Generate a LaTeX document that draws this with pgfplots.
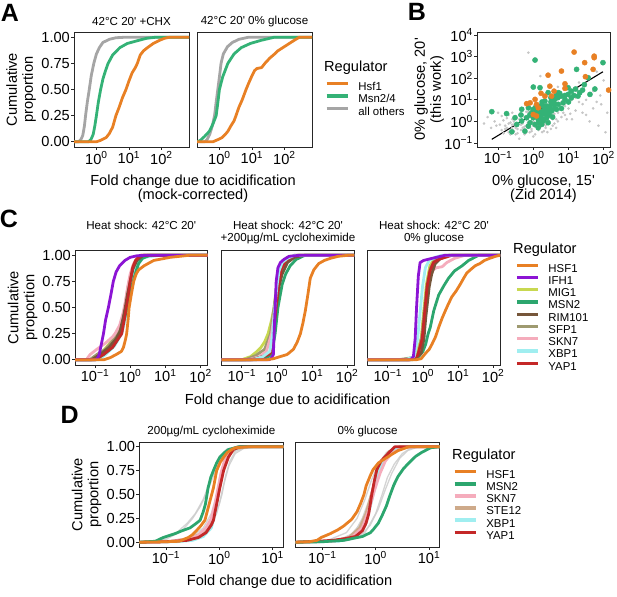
\documentclass[border=0pt]{standalone}
\usepackage{fontspec}
\setmainfont{Liberation Sans}
\usepackage{pgfplots}
\pgfplotsset{compat=1.18}

\definecolor{cOr}{RGB}{232,128,36}
\definecolor{cGr}{RGB}{52,178,118}
\definecolor{cGy}{RGB}{165,165,165}
\definecolor{cPu}{RGB}{140,20,212}
\definecolor{cMi}{RGB}{200,216,80}
\definecolor{cMs}{RGB}{44,166,110}
\definecolor{cRi}{RGB}{118,86,58}
\definecolor{cSf}{RGB}{158,154,112}
\definecolor{cSk}{RGB}{245,172,188}
\definecolor{cXb}{RGB}{160,238,240}
\definecolor{cYa}{RGB}{196,40,40}
\definecolor{cSt}{RGB}{206,170,138}
\definecolor{cPt}{RGB}{198,198,198}

\newcommand{\ftick}{\fontsize{14.6}{16}\selectfont}
\newcommand{\ftitle}{\fontsize{11.6}{13.5}\selectfont}
\newcommand{\fleg}{\fontsize{11.4}{12}\selectfont}
\newcommand{\fpan}{\fontsize{25}{25}\selectfont\bfseries}
\newcommand{\pe}[1]{10\textsuperscript{#1}}

\pgfplotsset{
 panel/.style={scale only axis, axis line style={black!85, line width=0.7pt},
   tick style={black!85, line width=0.7pt}, tick align=outside, major tick length=3pt,
   tick pos=left, tick label style={font=\ftick}, yticklabel style={inner sep=1pt},
   xticklabel style={inner sep=1.5pt}},
 ecdf/.style={ymin=-0.05, ymax=1.05, ytick={0,0.25,0.5,0.75,1}, yticklabels={0.00,0.25,0.50,0.75,1.00}},
 noy/.style={ymin=-0.05, ymax=1.05, ytick=\empty},
 cur/.style={line width=2.8pt, line join=round, forget plot},
 thn/.style={line width=1.3pt, line join=round, forget plot, color=gray!40, opacity=0.85},
 leg/.style={legend style={draw=none, fill=none, inner sep=0pt, outer sep=0pt, anchor=north west,
   row sep=#1, font=\fleg, nodes={inner sep=0.5pt, text height=8.4pt, text depth=2.6pt},
   /tikz/every odd column/.append style={column sep=8.5pt}}, legend cell align=left,
   legend image code/.code={\draw[##1, line width=3.4pt] (0pt,4pt) -- (21pt,4pt);}},
}

\begin{document}
\begin{tikzpicture}
\path[use as bounding box] (0pt,0pt) rectangle (617pt,596pt);

% ================= Panel A =================
\node[font=\fpan] at (10pt,583pt) {A};
\node[font=\ftitle] at (131.5pt,574.3pt) {42°C 20\textquotesingle{} +CHX};
\node[font=\ftitle] at (254.5pt,574.3pt) {42°C 20\textquotesingle{} 0\% glucose};
\node[font=\ftick, rotate=90, align=center] at (21pt,506.5pt) {Cumulative\\proportion};
\node[font=\ftick] at (193pt,414.3pt) {Fold change due to acidification};
\node[font=\ftick] at (193pt,400.5pt) {(mock-corrected)};
\node[font=\ftick, anchor=west, inner sep=0pt] at (324pt,528pt) {Regulator};

\begin{axis}[panel, ecdf, at={(74pt,449pt)}, anchor=south west, width=115pt, height=115pt,
  xmin=-0.69, xmax=2.85, xtick={0,1,2}, xticklabels={\pe{0},\pe{1},\pe{2}}]
\addplot[cur, cGy] coordinates {(-0.69,0) (-0.55,0) (-0.48,0.02) (-0.42,0.06) (-0.37,0.15) (-0.33,0.26) (-0.28,0.38) (-0.22,0.5) (-0.16,0.63) (-0.08,0.75) (0.0,0.84) (0.09,0.9) (0.2,0.95) (0.4,0.98) (0.6,0.995) (0.9,1) (2.85,1)};
\addplot[cur, cGr] coordinates {(-0.69,0) (-0.25,0) (-0.17,0.02) (-0.1,0.07) (-0.05,0.15) (0.0,0.25) (0.06,0.38) (0.13,0.5) (0.2,0.6) (0.28,0.68) (0.36,0.75) (0.5,0.83) (0.72,0.9) (0.95,0.94) (1.3,0.97) (1.55,0.99) (1.83,1) (2.85,1)};
\addplot[cur, cOr] coordinates {(-0.69,0) (0.0,0) (0.1,0.01) (0.3,0.04) (0.4,0.08) (0.5,0.14) (0.6,0.25) (0.7,0.33) (0.8,0.42) (0.91,0.5) (1.0,0.58) (1.1,0.66) (1.2,0.71) (1.26,0.75) (1.35,0.83) (1.45,0.87) (1.57,0.9) (1.75,0.94) (1.94,0.97) (2.1,0.99) (2.25,1) (2.85,1)};
\end{axis}

\begin{axis}[panel, noy, leg=0.5pt, at={(197pt,449pt)}, anchor=south west, width=115pt, height=115pt,
  xmin=-0.69, xmax=2.85, xtick={0,1,2}, xticklabels={\pe{0},\pe{1},\pe{2}},
  legend style={at={(1.113,0.570)}}]
\addplot[cur, cGy] coordinates {(-0.69,0) (-0.45,0) (-0.38,0.02) (-0.3,0.07) (-0.22,0.15) (-0.15,0.25) (-0.1,0.38) (-0.05,0.5) (0.0,0.62) (0.05,0.75) (0.12,0.84) (0.25,0.91) (0.4,0.95) (0.6,0.98) (0.9,1) (2.85,1)};
\addplot[cur, cGr] coordinates {(-0.69,0.0) (-0.6,0.01) (-0.46,0.05) (-0.31,0.1) (-0.2,0.17) (-0.1,0.25) (-0.05,0.37) (0.0,0.5) (0.1,0.62) (0.26,0.75) (0.45,0.84) (0.67,0.9) (0.95,0.94) (1.28,0.97) (1.69,1) (2.85,1)};
\addplot[cur, cOr] coordinates {(-0.69,0) (-0.2,0) (-0.05,0.02) (0.08,0.04) (0.18,0.07) (0.26,0.1) (0.35,0.15) (0.45,0.2) (0.51,0.25) (0.6,0.33) (0.7,0.4) (0.82,0.5) (0.9,0.56) (1.0,0.63) (1.08,0.68) (1.15,0.7) (1.3,0.71) (1.4,0.75) (1.55,0.8) (1.7,0.84) (1.8,0.87) (1.95,0.9) (2.15,0.94) (2.3,0.97) (2.46,1) (2.85,1)};
\addlegendimage{cOr}\addlegendentry{Hsf1}
\addlegendimage{cGr}\addlegendentry{Msn2/4}
\addlegendimage{cGy}\addlegendentry{all others}
\end{axis}

% ================= Panel B =================
\node[font=\fpan] at (417pt,584pt) {B};
\node[font=\ftick, rotate=90, align=center] at (429pt,506.5pt) {0\% glucose, 20\textquotesingle\\(this work)};
\node[font=\ftick] at (543.5pt,414.3pt) {0\% glucose, 15\textquotesingle};
\node[font=\ftick] at (543.5pt,400.5pt) {(Zid 2014)};

\begin{axis}[panel, at={(477pt,449pt)}, anchor=south west, width=133pt, height=115pt,
  xmin=-1.6, xmax=2.18, ymin=-1.185, ymax=4.14,
  xtick={-1,0,1,2}, xticklabels={\pe{−1},\pe{0},\pe{1},\pe{2}},
  ytick={-1,0,1,2,3,4}, yticklabels={\pe{−1},\pe{0},\pe{1},\pe{2},\pe{3},\pe{4}}]
\addplot[only marks, mark=*, mark size=1.1pt, color=cPt] coordinates {
(-0.9,-0.4) (-0.8,-0.2) (-0.7,-0.5) (-0.6,-0.3) (-0.55,0.0) (-0.5,-0.6) (-0.45,-0.2) (-0.4,0.1) (-0.35,-0.4) (-0.3,-0.1)
(-0.25,0.2) (-0.2,-0.5) (-0.15,-0.3) (-0.1,0.0) (-0.05,0.3) (0.0,-0.2) (0.05,-0.6) (0.1,0.1) (0.15,-0.4) (0.2,0.4)
(0.25,-0.1) (0.3,0.2) (0.35,-0.3) (0.4,0.5) (0.45,0.0) (0.5,0.3) (0.55,-0.2) (0.6,0.7) (0.65,0.1) (0.7,0.4)
(0.8,0.9) (0.9,0.3) (1.0,0.6) (1.1,1.0) (1.2,0.5) (1.4,0.8) (1.6,1.2) (1.8,0.9) (2.0,1.9) (1.85,-0.2)
(1.7,0.6) (-1.1,0.0) (-1.2,-0.3) (-1.0,0.4) (-0.3,0.6) (-0.6,0.4) (0.1,0.8) (0.3,1.1) (0.0,1.6) (-0.14,3.18)
(0.2,2.1) (0.7,1.6) (1.3,1.8) (-0.4,-0.8) (0.0,-0.7) (0.4,-0.5) (-0.75,0.15) (-0.65,-0.05) (-0.15,0.45) (0.15,0.6)
(0.45,0.8) (0.55,0.5) (-0.2,0.1) (-0.05,-0.35) (0.25,0.35) (0.35,0.05) (-0.5,0.25) (-0.85,0.05) (0.8,0.2) (1.0,1.3)
(1.5,0.3) (1.1,0.1) (-0.35,0.35) (0.05,0.15) (0.2,-0.25) (-0.25,-0.25) (0.6,-0.1) (-0.95,-0.15) (0.75,1.2) (1.25,1.4)
(1.93,0.79) (-0.55,-0.45) (-0.1,-0.5) (0.3,-0.45) (-0.7,-0.1) (0.5,0.6) (0.9,0.7) (-1.3,0.2) (1.6,0.0) (2.05,-0.5)
(-0.45,-0.35) (-0.25,-0.4) (0.1,-0.3) (-0.6,-0.15) (-0.15,-0.1) (0.2,0.05) (0.45,-0.1) (-0.8,-0.35) (-0.05,0.6) (0.35,0.45)
(-0.85,-0.55) (-0.75,-0.3) (-0.65,-0.6) (-0.55,-0.15) (-0.45,-0.55) (-0.35,-0.15) (-0.25,-0.6) (-0.15,-0.05) (-0.05,-0.45) (0.05,-0.25)
(0.15,-0.15) (0.25,-0.5) (0.35,-0.2) (0.45,0.2) (0.55,0.1) (0.65,-0.3) (0.75,0.55) (0.85,0.4) (0.95,0.1) (1.05,0.35)
(-0.6,0.1) (-0.4,0.3) (-0.2,0.45) (0.0,0.45) (0.2,0.25) (0.4,0.3) (0.6,0.35) (-0.9,0.25) (-1.05,-0.2) (-0.3,-0.3)
(-0.1,0.2) (0.1,-0.1) (0.3,-0.1) (0.5,-0.35) (0.7,0.0) (-0.5,-0.3) (-0.7,0.3) (0.0,0.0) (-0.2,-0.2) (0.2,0.55)
(1.3,0.9) (1.5,1.0) (1.2,1.1) (1.7,1.4) (0.9,1.0) (0.6,1.0) (1.4,0.4) (1.9,1.2) (-1.4,-0.1) (2.1,0.4) (1.8,2.3) (0.4,1.4)};
\addplot[only marks, mark=*, mark size=2.6pt, color=cGr] coordinates {
(0.05,2.84) (1.98,2.72) (1.23,2.41) (1.56,2.02) (0.19,1.56) (0.0,1.59) (0.42,1.33) (0.71,1.33) (1.08,1.40) (1.32,1.33)
(1.61,1.25) (0.99,1.56) (-1.18,0.45) (-0.76,0.36) (-0.52,0.17) (-0.33,0.56) (-0.14,0.63) (0.33,0.94) (0.57,0.94) (0.80,1.17)
(0.61,0.79) (0.52,0.48) (0.38,0.17) (0.24,-0.14) (0.14,-0.29) (-0.09,-0.06) (-0.33,0.02) (-0.47,-0.14) (-0.61,-0.48) (-0.24,-0.45)
(0.05,-0.14) (0.42,0.40) (0.24,0.32) (-0.05,0.40) (-0.19,0.17) (0.05,0.63) (0.33,0.63) (0.61,1.02) (0.90,1.02) (0.14,0.09)
(0.28,0.02) (0.0,0.17) (0.42,-0.06) (0.71,0.79) (-0.14,-0.22) (0.19,0.71) (0.47,0.63) (0.09,0.40) (0.28,0.48) (0.52,0.79)
(0.66,0.56) (0.38,0.71) (0.85,0.86) (1.08,1.09) (1.27,1.17) (0.99,1.25) (0.2,0.2) (0.3,0.1) (0.12,0.5) (0.45,0.3)
(0.3,0.7) (0.5,0.9) (0.7,1.1) (0.6,0.6) (0.8,0.6) (0.4,0.55) (0.2,0.45) (0.1,0.25) (0.35,0.35) (0.55,0.2)
(0.75,1.3) (1.0,0.9) (1.15,1.2) (1.4,1.45) (0.15,-0.05) (0.0,0.55) (-0.1,0.3) (0.25,0.9) (0.9,1.2) (0.65,1.2)
(1.2,1.5) (1.75,1.5) (1.45,1.7) (0.5,1.1) (-0.35,0.3)};
\addplot[only marks, mark=*, mark size=2.6pt, color=cOr] coordinates {
(1.16,3.21) (1.73,3.02) (1.73,2.95) (1.46,2.72) (1.70,2.41) (0.42,2.14) (0.80,2.33) (1.48,2.07) (0.90,1.74) (0.47,1.63)
(0.90,1.53) (0.22,1.30) (0.59,1.40) (-0.09,0.86) (0.09,0.79) (0.14,0.63) (0.0,0.32) (0.09,0.25) (2.14,1.45) (0.33,1.17)
(0.05,1.02) (-0.19,0.82) (0.52,1.17)};
\addplot[black, line width=1.1pt] coordinates {(-1.18,-0.83) (1.98,2.30)};
\end{axis}

% ================= Panel C =================
\node[font=\fpan] at (9pt,377.5pt) {C};
\node[font=\ftitle] at (141.25pt,371pt) {Heat shock: 42°C 20\textquotesingle};
\node[font=\ftitle] at (288pt,371pt) {Heat shock: 42°C 20\textquotesingle};
\node[font=\ftitle] at (288pt,357.5pt) {+200µg/mL cycloheximide};
\node[font=\ftitle] at (434pt,371pt) {Heat shock: 42°C 20\textquotesingle};
\node[font=\ftitle] at (434pt,357.5pt) {0\% glucose};
\node[font=\ftick, rotate=90, align=center] at (22.5pt,288.5pt) {Cumulative\\proportion};
\node[font=\ftick] at (287.6pt,195pt) {Fold change due to acidification};
\node[font=\ftick, anchor=west, inner sep=0pt] at (513pt,346pt) {Regulator};

\begin{axis}[panel, ecdf, at={(75pt,231pt)}, anchor=south west, width=132.5pt, height=115pt,
  xmin=-1.57, xmax=2.2, xtick={-1,0,1,2}, xticklabels={\pe{−1},\pe{0},\pe{1},\pe{2}}]
\addplot[cur, cMi] coordinates {(-1.57,0) (-1.05,0) (-0.86,0.05) (-0.6,0.15) (-0.29,0.3) (-0.2,0.42) (-0.13,0.5) (-0.07,0.62) (-0.02,0.75) (0.08,0.9) (0.2,0.97) (0.33,1) (2.2,1)};
\addplot[cur, cSf] coordinates {(-1.57,0) (-1.15,0) (-0.95,0.05) (-0.7,0.1) (-0.45,0.2) (-0.3,0.3) (-0.2,0.42) (-0.13,0.55) (-0.06,0.7) (0.02,0.82) (0.12,0.92) (0.3,0.98) (0.5,1) (2.2,1)};
\addplot[cur, cSk] coordinates {(-1.57,0) (-1.25,0) (-1.14,0.05) (-0.95,0.1) (-0.7,0.16) (-0.5,0.22) (-0.43,0.25) (-0.3,0.33) (-0.2,0.45) (-0.14,0.55) (-0.07,0.7) (0.0,0.82) (0.1,0.92) (0.3,1) (2.2,1)};
\addplot[cur, cXb] coordinates {(-1.57,0) (-0.9,0) (-0.7,0.05) (-0.45,0.13) (-0.24,0.25) (-0.13,0.4) (-0.1,0.5) (-0.02,0.65) (0.05,0.75) (0.15,0.88) (0.24,0.95) (0.4,0.98) (0.86,1) (2.2,1)};
\addplot[cur, cMs] coordinates {(-1.57,0) (-1.0,0) (-0.76,0.05) (-0.5,0.12) (-0.35,0.2) (-0.24,0.3) (-0.12,0.45) (-0.05,0.55) (0.03,0.68) (0.11,0.78) (0.18,0.86) (0.24,0.92) (0.35,0.97) (0.57,1) (2.2,1)};
\addplot[cur, cRi] coordinates {(-1.57,0) (-1.1,0) (-0.86,0.05) (-0.6,0.12) (-0.4,0.2) (-0.29,0.27) (-0.2,0.4) (-0.14,0.5) (-0.08,0.62) (0.0,0.75) (0.08,0.87) (0.19,0.95) (0.38,1) (2.2,1)};
\addplot[cur, cYa] coordinates {(-1.57,0) (-1.0,0) (-0.76,0.05) (-0.5,0.12) (-0.24,0.25) (-0.17,0.38) (-0.11,0.5) (-0.05,0.62) (0.0,0.75) (0.07,0.88) (0.15,0.95) (0.3,1) (2.2,1)};
\addplot[cur, cPu] coordinates {(-1.57,0) (-0.97,0) (-0.92,0.02) (-0.88,0.05) (-0.82,0.15) (-0.76,0.25) (-0.7,0.38) (-0.62,0.5) (-0.55,0.62) (-0.48,0.75) (-0.4,0.84) (-0.3,0.9) (-0.15,0.95) (0.0,0.98) (0.2,0.995) (0.48,1) (2.2,1)};
\addplot[cur, cOr] coordinates {(-1.57,0) (-0.75,0) (-0.57,0.02) (-0.4,0.05) (-0.25,0.08) (-0.19,0.12) (-0.13,0.2) (-0.1,0.25) (-0.06,0.38) (-0.03,0.5) (0.03,0.62) (0.1,0.75) (0.17,0.82) (0.24,0.86) (0.4,0.9) (0.67,0.95) (1.14,0.98) (1.7,1) (2.2,1)};
\end{axis}

\begin{axis}[panel, noy, at={(221.7pt,231pt)}, anchor=south west, width=132.5pt, height=115pt,
  xmin=-1.57, xmax=2.2, xtick={-1,0,1,2}, xticklabels={\pe{−1},\pe{0},\pe{1},\pe{2}}]
\addplot[cur, cMi] coordinates {(-1.57,0) (-1.0,0) (-0.75,0.03) (-0.6,0.07) (-0.45,0.12) (-0.35,0.17) (-0.25,0.25) (-0.15,0.38) (-0.08,0.5) (0.0,0.7) (0.05,0.8) (0.15,0.92) (0.3,0.98) (0.6,1) (2.2,1)};
\addplot[cur, cSf] coordinates {(-1.57,0) (-0.9,0) (-0.6,0.04) (-0.35,0.1) (-0.18,0.25) (-0.08,0.5) (0.0,0.72) (0.12,0.88) (0.3,0.96) (0.6,1) (2.2,1)};
\addplot[cur, cSk] coordinates {(-1.57,0) (-0.8,0) (-0.5,0.03) (-0.3,0.08) (-0.15,0.25) (-0.05,0.5) (0.02,0.7) (0.1,0.85) (0.25,0.95) (0.6,1) (2.2,1)};
\addplot[cur, cMs] coordinates {(-1.57,0) (-0.6,0) (-0.3,0.02) (-0.15,0.05) (-0.05,0.25) (0.03,0.5) (0.15,0.72) (0.25,0.82) (0.38,0.9) (0.55,0.96) (0.8,1) (2.2,1)};
\addplot[cur, cRi] coordinates {(-1.57,0) (-0.75,0) (-0.5,0.02) (-0.3,0.04) (-0.19,0.06) (-0.1,0.25) (-0.02,0.5) (0.06,0.7) (0.15,0.82) (0.3,0.93) (0.5,0.98) (0.8,1) (2.2,1)};
\addplot[cur, cYa] coordinates {(-1.57,0) (-0.7,0) (-0.4,0.03) (-0.2,0.06) (-0.1,0.25) (-0.03,0.5) (0.04,0.72) (0.12,0.86) (0.25,0.95) (0.5,1) (2.2,1)};
\addplot[cur, cXb] coordinates {(-1.57,0) (-0.7,0) (-0.4,0.03) (-0.2,0.08) (-0.12,0.25) (-0.06,0.5) (0.0,0.7) (0.06,0.85) (0.15,0.93) (0.3,0.97) (0.5,1) (2.2,1)};
\addplot[cur, cPu] coordinates {(-1.57,0) (-0.22,0) (-0.15,0.02) (-0.1,0.05) (-0.08,0.25) (-0.05,0.5) (-0.02,0.75) (0.03,0.88) (0.1,0.93) (0.2,0.96) (0.35,0.99) (0.67,1) (2.2,1)};
\addplot[cur, cOr] coordinates {(-1.57,0) (-0.3,0) (-0.1,0.01) (0.09,0.03) (0.29,0.05) (0.47,0.1) (0.58,0.17) (0.67,0.25) (0.74,0.35) (0.81,0.47) (0.88,0.62) (0.95,0.78) (1.05,0.86) (1.19,0.92) (1.35,0.95) (1.52,0.97) (1.75,0.99) (2.05,1) (2.2,1)};
\end{axis}

\begin{axis}[panel, noy, leg=0.25pt, at={(367.7pt,231pt)}, anchor=south west, width=132.5pt, height=115pt,
  xmin=-1.57, xmax=2.2, xtick={-1,0,1,2}, xticklabels={\pe{−1},\pe{0},\pe{1},\pe{2}},
  legend style={at={(1.112,0.885)}}]
\addplot[cur, cMi] coordinates {(-1.57,0) (-0.45,0) (-0.2,0.04) (-0.05,0.2) (0.02,0.45) (0.1,0.72) (0.2,0.9) (0.32,0.96) (0.6,1) (2.2,1)};
\addplot[cur, cSf] coordinates {(-1.57,0) (-0.7,0) (-0.3,0.02) (-0.12,0.06) (-0.02,0.25) (0.05,0.5) (0.12,0.72) (0.22,0.88) (0.35,0.96) (0.75,1) (2.2,1)};
\addplot[cur, cSk] coordinates {(-1.57,0) (-0.4,0) (-0.1,0.05) (0.0,0.2) (0.08,0.45) (0.15,0.7) (0.25,0.85) (0.38,0.88) (0.55,0.89) (0.68,0.93) (0.9,0.97) (1.2,1) (2.2,1)};
\addplot[cur, cMs] coordinates {(-1.57,0) (-0.3,0) (-0.12,0.03) (0.0,0.08) (0.08,0.15) (0.15,0.25) (0.21,0.31) (0.31,0.47) (0.45,0.62) (0.6,0.71) (0.73,0.78) (0.9,0.85) (1.12,0.9) (1.3,0.95) (1.59,1) (2.2,1)};
\addplot[cur, cRi] coordinates {(-1.57,0) (-0.4,0) (-0.2,0.02) (-0.05,0.06) (0.03,0.2) (0.08,0.4) (0.13,0.55) (0.18,0.7) (0.25,0.82) (0.35,0.92) (0.5,0.97) (0.75,1) (2.2,1)};
\addplot[cur, cYa] coordinates {(-1.57,0) (-0.4,0) (-0.15,0.04) (-0.02,0.2) (0.05,0.45) (0.12,0.7) (0.2,0.85) (0.3,0.93) (0.45,0.96) (0.83,1) (2.2,1)};
\addplot[cur, cXb] coordinates {(-1.57,0) (-0.5,0) (-0.25,0.03) (-0.15,0.2) (-0.08,0.45) (-0.01,0.7) (0.07,0.88) (0.18,0.95) (0.35,0.98) (0.55,1) (2.2,1)};
\addplot[cur, cPu] coordinates {(-1.57,0) (-0.35,0) (-0.27,0.03) (-0.22,0.2) (-0.18,0.5) (-0.13,0.8) (-0.08,0.93) (0.02,0.95) (0.26,0.97) (0.64,1) (2.2,1)};
\addplot[cur, cOr] coordinates {(-1.57,0) (-0.2,0) (-0.05,0.01) (0.07,0.06) (0.18,0.1) (0.26,0.15) (0.36,0.22) (0.45,0.31) (0.55,0.4) (0.64,0.47) (0.72,0.53) (0.82,0.6) (0.95,0.66) (1.06,0.72) (1.16,0.78) (1.25,0.83) (1.35,0.86) (1.49,0.9) (1.62,0.92) (1.75,0.95) (1.9,0.97) (2.07,0.99) (2.2,1)};
\addlegendimage{cOr}\addlegendentry{HSF1}
\addlegendimage{cPu}\addlegendentry{IFH1}
\addlegendimage{cMi}\addlegendentry{MIG1}
\addlegendimage{cMs}\addlegendentry{MSN2}
\addlegendimage{cRi}\addlegendentry{RIM101}
\addlegendimage{cSf}\addlegendentry{SFP1}
\addlegendimage{cSk}\addlegendentry{SKN7}
\addlegendimage{cXb}\addlegendentry{XBP1}
\addlegendimage{cYa}\addlegendentry{YAP1}
\end{axis}

% ================= Panel D =================
\node[font=\fpan] at (69.6pt,181pt) {D};
\node[font=\ftitle] at (211.3pt,164pt) {200µg/mL cycloheximide};
\node[font=\ftitle] at (367.7pt,164pt) {0\% glucose};
\node[font=\ftick, rotate=90, align=center] at (86.6pt,101.5pt) {Cumulative\\proportion};
\node[font=\ftick] at (289.5pt,14.7pt) {Fold change due to acidification};
\node[font=\ftick, anchor=west, inner sep=0pt] at (452pt,140.3pt) {Regulator};

\begin{axis}[panel, ecdf, at={(139.3pt,49pt)}, anchor=south west, width=144pt, height=105pt,
  xmin=-1.5, xmax=1.2, xtick={-1,0,1}, xticklabels={\pe{−1},\pe{0},\pe{1}}]
\addplot[thn] coordinates {(-1.5,0) (-1.1,0.02) (-0.8,0.1) (-0.6,0.2) (-0.45,0.3) (-0.3,0.45) (-0.2,0.6) (-0.1,0.78) (0.0,0.9) (0.15,0.98) (0.4,1) (1.2,1)};
\addplot[thn] coordinates {(-1.5,0) (-0.7,0.01) (-0.4,0.05) (-0.2,0.15) (-0.05,0.3) (0.05,0.5) (0.12,0.7) (0.2,0.85) (0.3,0.95) (0.5,1) (1.2,1)};
\addplot[thn] coordinates {(-1.5,0) (-0.8,0.01) (-0.5,0.06) (-0.3,0.15) (-0.15,0.3) (-0.05,0.5) (0.05,0.72) (0.15,0.9) (0.3,0.97) (0.6,1) (1.2,1)};
\addplot[thn] coordinates {(-1.5,0) (-0.6,0.02) (-0.35,0.08) (-0.15,0.2) (0.0,0.4) (0.08,0.6) (0.18,0.8) (0.3,0.93) (0.45,0.98) (0.7,1) (1.2,1)};
\addplot[thn] coordinates {(-1.5,0) (-1.0,0.03) (-0.7,0.12) (-0.5,0.25) (-0.35,0.38) (-0.25,0.5) (-0.12,0.68) (0.0,0.85) (0.12,0.95) (0.3,1) (1.2,1)};
\addplot[cur, cSt] coordinates {(-1.5,0) (-0.9,0.01) (-0.55,0.04) (-0.3,0.1) (-0.15,0.22) (-0.06,0.42) (0.0,0.6) (0.07,0.78) (0.15,0.9) (0.3,0.98) (0.5,1) (1.2,1)};
\addplot[cur, cXb] coordinates {(-1.5,0) (-0.8,0.005) (-0.5,0.02) (-0.3,0.06) (-0.15,0.15) (-0.08,0.3) (-0.02,0.5) (0.04,0.7) (0.12,0.87) (0.22,0.96) (0.4,1) (1.2,1)};
\addplot[cur, cSk] coordinates {(-1.5,0) (-1.0,0.005) (-0.6,0.03) (-0.4,0.07) (-0.25,0.15) (-0.15,0.25) (-0.08,0.4) (-0.03,0.55) (0.03,0.72) (0.1,0.86) (0.2,0.95) (0.35,1) (1.2,1)};
\addplot[cur, cYa] coordinates {(-1.5,0) (-1.0,0.005) (-0.6,0.02) (-0.39,0.05) (-0.25,0.1) (-0.15,0.18) (-0.11,0.23) (-0.05,0.4) (0.01,0.57) (0.08,0.75) (0.17,0.89) (0.26,0.97) (0.39,1) (1.2,1)};
\addplot[cur, cMs] coordinates {(-1.5,0) (-1.2,0.01) (-1.05,0.05) (-0.83,0.09) (-0.7,0.12) (-0.55,0.15) (-0.45,0.19) (-0.36,0.23) (-0.3,0.32) (-0.26,0.4) (-0.21,0.57) (-0.16,0.68) (-0.11,0.75) (-0.05,0.83) (0.01,0.89) (0.1,0.94) (0.17,0.97) (0.36,1) (1.2,1)};
\addplot[cur, cOr] coordinates {(-1.5,0.0) (-1.0,0.005) (-0.75,0.01) (-0.58,0.05) (-0.5,0.08) (-0.43,0.12) (-0.35,0.17) (-0.27,0.23) (-0.19,0.4) (-0.11,0.57) (-0.05,0.75) (0.02,0.84) (0.08,0.89) (0.15,0.94) (0.23,0.97) (0.3,0.99) (0.55,1) (1.2,1)};
\end{axis}

\begin{axis}[panel, noy, leg=0.1pt, at={(295.7pt,49pt)}, anchor=south west, width=144pt, height=105pt,
  xmin=-1.5, xmax=1.2, xtick={-1,0,1}, xticklabels={\pe{−1},\pe{0},\pe{1}},
  legend style={at={(1.092,0.736)}}]
\addplot[thn] coordinates {(-1.5,0) (-0.8,0.01) (-0.5,0.06) (-0.3,0.18) (-0.15,0.38) (-0.05,0.58) (0.05,0.75) (0.15,0.88) (0.3,0.96) (0.5,1) (1.2,1)};
\addplot[thn] coordinates {(-1.5,0) (-0.6,0.01) (-0.3,0.06) (-0.1,0.18) (0.05,0.35) (0.18,0.55) (0.3,0.72) (0.45,0.88) (0.6,0.96) (0.8,1) (1.2,1)};
\addplot[thn] coordinates {(-1.5,0) (-0.7,0.02) (-0.4,0.1) (-0.25,0.25) (-0.12,0.45) (0.0,0.68) (0.12,0.85) (0.25,0.95) (0.45,1) (1.2,1)};
\addplot[thn] coordinates {(-1.5,0) (-0.5,0.02) (-0.2,0.1) (0.0,0.3) (0.12,0.5) (0.22,0.68) (0.35,0.82) (0.5,0.93) (0.7,1) (1.2,1)};
\addplot[thn] coordinates {(-1.5,0) (-0.9,0.02) (-0.55,0.1) (-0.35,0.25) (-0.2,0.45) (-0.08,0.65) (0.05,0.82) (0.2,0.94) (0.4,1) (1.2,1)};
\addplot[cur, cSt] coordinates {(-1.5,0) (-0.8,0.01) (-0.5,0.05) (-0.3,0.15) (-0.18,0.3) (-0.08,0.5) (0.02,0.7) (0.12,0.85) (0.25,0.95) (0.45,1) (1.2,1)};
\addplot[cur, cXb] coordinates {(-1.5,0) (-0.7,0.01) (-0.4,0.05) (-0.2,0.18) (-0.1,0.38) (0.0,0.6) (0.1,0.8) (0.22,0.92) (0.4,0.98) (0.6,1) (1.2,1)};
\addplot[cur, cSk] coordinates {(-1.5,0) (-0.8,0.01) (-0.45,0.05) (-0.25,0.15) (-0.12,0.35) (-0.02,0.55) (0.08,0.72) (0.18,0.85) (0.3,0.93) (0.5,0.99) (0.7,1) (1.2,1)};
\addplot[cur, cYa] coordinates {(-1.5,0) (-1.1,0.01) (-0.8,0.02) (-0.55,0.04) (-0.38,0.06) (-0.25,0.12) (-0.18,0.2) (-0.13,0.3) (-0.08,0.48) (-0.03,0.63) (0.02,0.76) (0.1,0.85) (0.2,0.91) (0.36,1) (1.2,1)};
\addplot[cur, cMs] coordinates {(-1.5,0) (-1.0,0.005) (-0.6,0.02) (-0.25,0.06) (-0.1,0.1) (-0.05,0.13) (0.05,0.2) (0.12,0.28) (0.2,0.38) (0.26,0.48) (0.34,0.6) (0.42,0.69) (0.52,0.77) (0.62,0.83) (0.75,0.9) (0.86,0.94) (1.03,0.99) (1.2,1)};
\addplot[cur, cOr] coordinates {(-1.5,0) (-1.25,0.005) (-1.1,0.02) (-1.02,0.05) (-0.85,0.09) (-0.71,0.13) (-0.6,0.17) (-0.45,0.24) (-0.35,0.32) (-0.28,0.41) (-0.22,0.5) (-0.18,0.59) (-0.1,0.7) (-0.05,0.76) (0.05,0.83) (0.16,0.87) (0.3,0.92) (0.42,0.96) (0.62,1) (1.2,1)};
\addlegendimage{cOr}\addlegendentry{HSF1}
\addlegendimage{cMs}\addlegendentry{MSN2}
\addlegendimage{cSk}\addlegendentry{SKN7}
\addlegendimage{cSt}\addlegendentry{STE12}
\addlegendimage{cXb}\addlegendentry{XBP1}
\addlegendimage{cYa}\addlegendentry{YAP1}
\end{axis}

\end{tikzpicture}
\end{document}
